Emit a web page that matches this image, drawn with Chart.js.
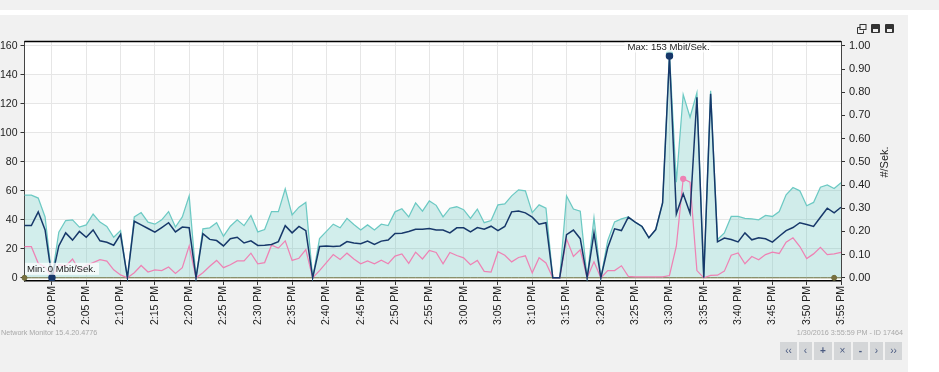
<!DOCTYPE html>
<html>
<head>
<meta charset="utf-8">
<title>Network Monitor</title>
<script src="https://cdn.jsdelivr.net/npm/chart.js@4/dist/chart.umd.min.js"></script>
<style>
  html, body { margin: 0; padding: 0; background: #fff; width: 939px; height: 372px; overflow: hidden; font-family: "Liberation Sans", sans-serif; }
  .bandaTop { position: absolute; left: 0; top: 0; width: 939px; height: 10px; background: #f1f1f1; }
  .panel { position: absolute; left: 0; top: 15px; width: 908px; height: 357px; background: #f1f1f1; }
  #grafica { position: absolute; left: 0; top: 0; }
  .pie { position: absolute; top: 328px; font-size: 7.2px; line-height: 10px; color: #a8a8a8; white-space: nowrap; }
  .iconos { position: absolute; left: 857px; top: 24px; }
  .iconos svg { display: block; }
  .btn { position: absolute; top: 342px; height: 18px; background: #d4d6d8; color: #4a5a80; font-size: 10px; line-height: 17px; text-align: center; }
</style>
</head>
<body>
<div class="bandaTop"></div>
<div class="panel"></div>
<canvas id="grafica" width="939" height="372"></canvas>
<svg class="iconos" width="38" height="10" viewBox="0 0 38 10">
  <path d="M3.5 3.5H0.5V9.5H6.5V6.5" fill="none" stroke="#333"/><rect x="3" y="0.5" width="6" height="5" fill="none" stroke="#333"/>
  <rect x="14" y="0" width="9" height="9" rx="1" fill="#333"/><rect x="16" y="5" width="5" height="3" fill="#f1f1f1"/>
  <rect x="28" y="0" width="9" height="9" rx="1" fill="#333"/><rect x="30" y="5" width="5" height="3" fill="#f1f1f1"/>
</svg>
<div class="pie" style="left:1px">Network Monitor 15.4.20.4776</div>
<div class="pie" style="right:36px">1/30/2016 3:55:59 PM - ID 17464</div>
<div class="btn" style="left:780px;width:17px">‹‹</div>
<div class="btn" style="left:799px;width:13px">‹</div>
<div class="btn" style="left:814px;width:18px;font-weight:bold">+</div>
<div class="btn" style="left:834px;width:17px">×</div>
<div class="btn" style="left:853px;width:15px;font-weight:bold">-</div>
<div class="btn" style="left:870px;width:13px">›</div>
<div class="btn" style="left:885px;width:17px">››</div>
<script>
/* Eje de tiempo: un punto por minuto, de 1:56 PM a 3:55 PM */
const categorias = [
  '1:56 PM','1:57 PM','1:58 PM','1:59 PM',
  '2:00 PM','2:01 PM','2:02 PM','2:03 PM','2:04 PM','2:05 PM','2:06 PM','2:07 PM','2:08 PM','2:09 PM',
  '2:10 PM','2:11 PM','2:12 PM','2:13 PM','2:14 PM','2:15 PM','2:16 PM','2:17 PM','2:18 PM','2:19 PM',
  '2:20 PM','2:21 PM','2:22 PM','2:23 PM','2:24 PM','2:25 PM','2:26 PM','2:27 PM','2:28 PM','2:29 PM',
  '2:30 PM','2:31 PM','2:32 PM','2:33 PM','2:34 PM','2:35 PM','2:36 PM','2:37 PM','2:38 PM','2:39 PM',
  '2:40 PM','2:41 PM','2:42 PM','2:43 PM','2:44 PM','2:45 PM','2:46 PM','2:47 PM','2:48 PM','2:49 PM',
  '2:50 PM','2:51 PM','2:52 PM','2:53 PM','2:54 PM','2:55 PM','2:56 PM','2:57 PM','2:58 PM','2:59 PM',
  '3:00 PM','3:01 PM','3:02 PM','3:03 PM','3:04 PM','3:05 PM','3:06 PM','3:07 PM','3:08 PM','3:09 PM',
  '3:10 PM','3:11 PM','3:12 PM','3:13 PM','3:14 PM','3:15 PM','3:16 PM','3:17 PM','3:18 PM','3:19 PM',
  '3:20 PM','3:21 PM','3:22 PM','3:23 PM','3:24 PM','3:25 PM','3:26 PM','3:27 PM','3:28 PM','3:29 PM',
  '3:30 PM','3:31 PM','3:32 PM','3:33 PM','3:34 PM','3:35 PM','3:36 PM','3:37 PM','3:38 PM','3:39 PM',
  '3:40 PM','3:41 PM','3:42 PM','3:43 PM','3:44 PM','3:45 PM','3:46 PM','3:47 PM','3:48 PM','3:49 PM',
  '3:50 PM','3:51 PM','3:52 PM','3:53 PM','3:54 PM','3:55 PM'
];
const ticksTiempo = categorias.filter(c => Number(c.slice(2, 4)) % 5 === 0);
const ticksMbit = [0, 20, 40, 60, 80, 100, 120, 140, 160];
const ticksPorSeg = [0, 0.1, 0.2, 0.3, 0.4, 0.5, 0.6, 0.7, 0.8, 0.9, 1];

/* Valores (Mbit/Sek.) */
const serieTeal = [
  57,57,55,42,0,31.5,39.5,40,35,36.5,44,38.4,35.4,28,32.6,0,42,45,38.4,37,40,45.7,35,42,56.5,0,33.8,34.5,38,28.7,
  35.6,40,36,43,31.7,33.3,45.7,45.7,61.4,43.4,48.7,52,0,27,32,37,34.5,41,36.8,33,36.5,33,37,36,45.5,47.6,42,51.7,46,53,
  50,42,48,49,47,41,47.4,38,39.5,50.3,51,56.5,60.7,60,45,50.3,48,0,0,56.5,47.4,46,0,41.4,0,25.7,38.6,40.7,42,38.4,
  35.4,27.6,33.3,52,154.5,66,126.4,110.8,127.6,0,129,26.4,31,42.3,42.3,41,40.7,40,43,42.3,45.7,57.2,62.3,60,49.7,52,62.5,64,61.6,65.5
];
const serieNavy = [
  36,36,45.5,33,0,22,31,26,32,28,33,25.5,24.5,22.5,30,0,39,36.5,34,31.5,34.7,38,31.7,35,34.5,0,30.5,26.5,25.7,22,
  27,28,24,25.5,22.3,22.5,23,25,36,31,35.5,32.5,0,21.6,22,21.6,22,25,24,23.5,25.3,23,25.3,26,30.6,30.8,32,33.5,33.5,34,
  33,33,31,34.5,34.5,31.7,34.7,33.5,35.6,32.6,35.4,45.5,46,44.8,41.8,37,38,0,0,29.7,32.9,27,0,31,0,20.7,33.8,32.6,41.8,38.4,
  35.4,27.6,33.3,51.7,153,44.1,58,44.6,124.5,0,127,24.8,27.4,26.4,24.8,31,26.2,27.6,26.9,24.6,28.7,32.6,34.7,38,36.8,35.4,41.8,48,44.8,48.7
];
const seriePink = [
  21.5,21.5,10,7.5,0,9,8,13,5,8.5,10.5,12.5,11.5,5.5,2,0,3.5,8.5,4,5.5,5,7.5,3,7,22,0,3.5,8,12,7,
  9,11.7,11.7,17,9.7,10.5,22.5,20.5,25.5,12,13.5,19.5,0,5,10.5,16,12.6,17,13,9.7,11.7,9.7,12.2,9.7,15,16.5,10,17.7,13,18.9,
  17.5,9.7,17.5,15.4,13.8,9,12,4.4,4,18,15.6,11,14,15.2,3.4,13.8,10.3,0,0,26.7,14.7,19.3,0,11,0,5,5,8.3,1,0.7,
  0.7,0.7,0.7,0.7,1.6,21.8,68.3,66,5,0,1.6,1.8,4.6,15.6,17.2,9.7,14.7,12.4,16,17.7,16.8,24.6,27.6,21.6,13.3,16.5,21,16,16.5,17.5
];
/* Serie de #/Sek. (eje derecho), siempre en cero */
const seriePorSeg = categorias.map(() => 0);

const maxIdx = 94, minIdx = 4, picoPink = 96, extremosOlive = [0, 118];
const textoMax = 'Max: 153 Mbit/Sek.';
const textoMin = 'Min: 0 Mbit/Sek.';
const textoEjeDer = '#/Sek.';

const fuente = { family: '"Liberation Sans", sans-serif', size: 11 };

/* Fondo del area de trazado con bandas alternas, marco superior y textos */
const decoracion = {
  id: 'decoracion',
  beforeDraw(chart) {
    const { ctx, chartArea: a, scales } = chart;
    ctx.save();
    ctx.fillStyle = '#fff';
    ctx.fillRect(a.left, a.top, a.width, a.height);
    ctx.fillStyle = '#fcfcfc';
    for (let i = 0; i < ticksMbit.length - 1; i += 2) {
      const yArriba = scales.y.getPixelForValue(ticksMbit[i + 1]);
      const yAbajo = scales.y.getPixelForValue(ticksMbit[i]);
      ctx.fillRect(a.left, yArriba, a.width, yAbajo - yArriba);
    }
    ctx.restore();
  },
  afterDraw(chart) {
    const { ctx, chartArea: a, scales } = chart;
    ctx.save();
    ctx.strokeStyle = '#000';
    ctx.lineWidth = 1.5;
    ctx.beginPath();
    ctx.moveTo(a.left, a.top);
    ctx.lineTo(a.right, a.top);
    ctx.stroke();

    ctx.font = '9.6px "Liberation Sans", sans-serif';
    ctx.textBaseline = 'middle';
    const xMax = scales.x.getPixelForValue(maxIdx);
    ctx.fillStyle = 'rgba(255,255,255,0.75)';
    ctx.fillRect(xMax - 45, a.top + 1, 86, 10);
    ctx.fillRect(a.left + 0.5, scales.y.getPixelForValue(0) - 15, 74, 12);
    ctx.fillStyle = '#222';
    ctx.textAlign = 'left';
    ctx.fillText(textoMax, xMax - 42, a.top + 6);
    ctx.fillText(textoMin, a.left + 2.5, scales.y.getPixelForValue(0) - 8.5);

    ctx.font = '11px "Liberation Sans", sans-serif';
    ctx.translate(885, 162);
    ctx.rotate(-Math.PI / 2);
    ctx.textAlign = 'center';
    ctx.fillText(textoEjeDer, 0, 0);
    ctx.restore();
  }
};

new Chart(document.getElementById('grafica').getContext('2d'), {
  type: 'line',
  data: {
    labels: categorias,
    datasets: [
      { label: 'Navy', data: serieNavy, yAxisID: 'y', borderColor: '#17386a', borderWidth: 1.5, backgroundColor: '#17386a',
        pointRadius: c => (c.dataIndex === maxIdx || c.dataIndex === minIdx) ? 3 : 0 },
      { label: 'Pink', data: seriePink, yAxisID: 'y', borderColor: '#ee82b4', borderWidth: 1.25, backgroundColor: '#ee82b4',
        pointRadius: c => c.dataIndex === picoPink ? 2.5 : 0 },
      { label: '#/Sek.', data: seriePorSeg, yAxisID: 'y1', borderColor: '#6f6f3c', borderWidth: 1, backgroundColor: '#7a7040',
        pointRadius: c => extremosOlive.includes(c.dataIndex) ? 2.5 : 0 },
      { label: 'Teal', data: serieTeal, yAxisID: 'y', borderColor: '#6cc9c3', borderWidth: 1.25, backgroundColor: 'rgba(100,195,190,0.29)',
        fill: 'origin', pointBackgroundColor: '#6cc9c3',
        pointRadius: c => c.dataIndex === maxIdx ? 3 : 0 }
    ]
  },
  plugins: [decoracion],
  options: {
    responsive: false,
    animation: false,
    events: [],
    elements: { line: { tension: 0 }, point: { borderWidth: 0 } },
    layout: { padding: { top: 41.5 } },
    plugins: { legend: { display: false }, title: { display: false }, tooltip: { enabled: false } },
    scales: {
      x: {
        type: 'category',
        offset: false,
        afterBuildTicks: s => { s.ticks = s.ticks.filter(t => ticksTiempo.includes(categorias[t.value])); },
        afterFit: s => { s.height = 91; },
        grid: { color: '#e6e6e6', tickColor: '#333', tickLength: 4 },
        border: { color: '#000', width: 1.5 },
        ticks: { autoSkip: false, minRotation: 90, maxRotation: 90, color: '#222', font: { family: fuente.family, size: 10.5 }, padding: 1 }
      },
      y: {
        position: 'left',
        min: -2.2,
        max: 163,
        afterBuildTicks: s => { s.ticks = ticksMbit.map(v => ({ value: v })); },
        afterFit: s => { s.width = 24.5; },
        grid: { color: '#e6e6e6', tickColor: '#333', tickLength: 4 },
        border: { color: '#444', width: 1 },
        ticks: { color: '#222', font: { family: fuente.family, size: 10.5 }, padding: 3 }
      },
      y1: {
        position: 'right',
        min: -2.2 / 160,
        max: 163 / 160,
        afterBuildTicks: s => { s.ticks = ticksPorSeg.map(v => ({ value: v })); },
        afterFit: s => { s.width = 98; },
        grid: { drawOnChartArea: false, tickColor: '#333', tickLength: 4 },
        border: { color: '#444', width: 1 },
        ticks: { color: '#222', font: fuente, padding: 4, callback: v => v.toFixed(2) }
      }
    }
  }
});
</script>
</body>
</html>
